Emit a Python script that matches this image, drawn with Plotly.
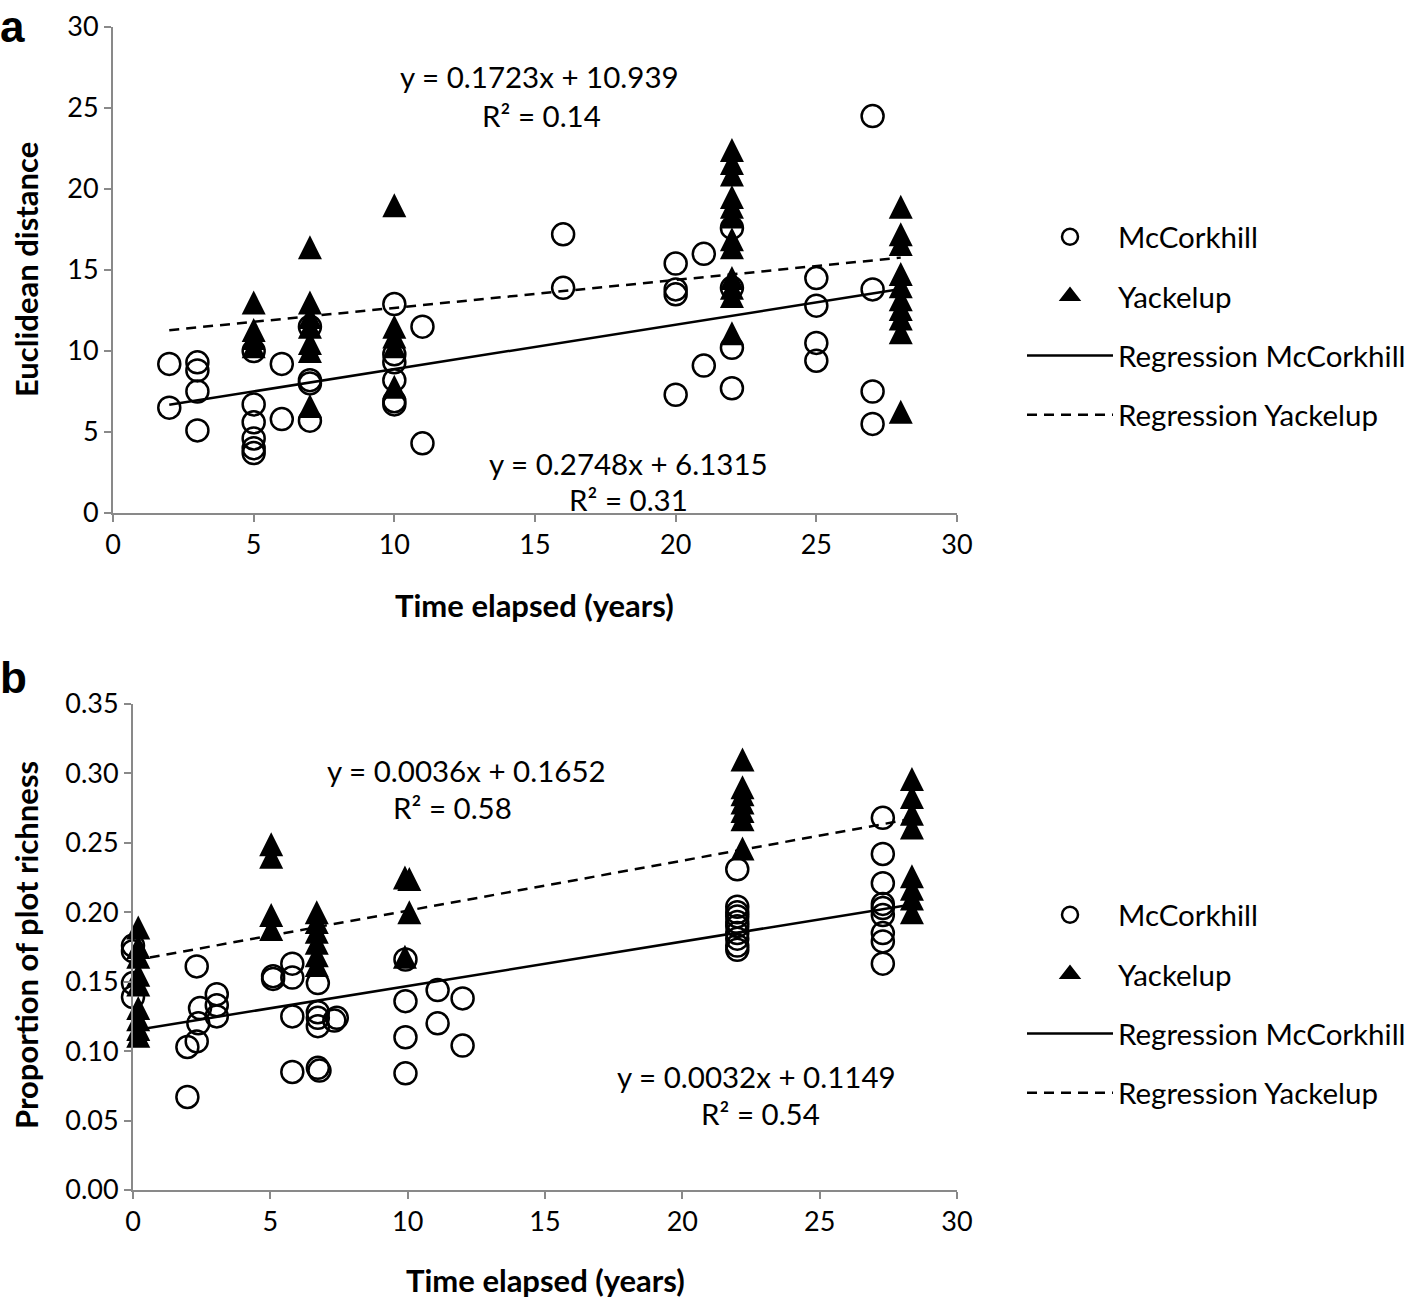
import plotly.graph_objects as go

W, H = 1416, 1300

# ---------------- Panel a data ----------------
a_mc_x = [2, 2, 3, 3, 3, 3, 5, 5, 5, 5, 5, 5, 6, 6, 7, 7, 7, 7,
          10, 10, 10, 10, 10, 10, 11, 11, 16, 16, 20, 20, 20, 20, 21, 21,
          22, 22, 22, 22, 25, 25, 25, 25, 27, 27, 27, 27]
a_mc_y = [9.2, 6.5, 9.3, 8.8, 7.5, 5.1, 10.0, 6.7, 5.6, 4.6, 4.0, 3.7, 9.2, 5.8,
          11.5, 8.2, 8.0, 5.7, 12.9, 9.8, 9.3, 8.2, 6.9, 6.7, 11.5, 4.3, 17.2, 13.9,
          15.4, 13.8, 13.5, 7.3, 16.0, 9.1, 17.6, 13.9, 10.2, 7.7, 14.5, 12.8, 10.5, 9.4,
          24.5, 13.8, 7.5, 5.5]
a_ya_x = [5, 5, 5, 5,
          7, 7, 7, 7, 7, 7, 7,
          10, 10, 10, 10, 10,
          22, 22, 22, 22, 22, 22, 22, 22, 22, 22, 22, 22,
          28, 28, 28, 28, 28, 28, 28, 28, 28, 28]
a_ya_y = [13.0, 11.3, 10.8, 10.3,
          16.4, 13.0, 12.1, 11.5, 10.5, 10.0, 6.6,
          19.0, 11.5, 10.9, 10.3, 7.8,
          22.4, 21.6, 20.9, 19.5, 18.9, 18.3, 16.9, 16.4, 14.5, 13.9, 13.4, 11.1,
          18.9, 17.2, 16.6, 14.75, 14.0, 13.2, 12.6, 12.0, 11.15, 6.25]
# trendline coefficients (slope, intercept) and x extent
a_reg_mc = (0.2748, 6.1315)
a_reg_ya = (0.1723, 10.939)
a_reg_x = [2, 28]

# ---------------- Panel b data ----------------
b_mc_x = [0, 0, 0, 0, 1.98, 1.98, 2.32, 2.32, 2.38, 2.44, 3.05, 3.05, 3.05,
          5.1, 5.1, 5.8, 5.8, 5.8, 5.8, 6.73, 6.73, 6.73, 6.73, 6.73, 6.79, 7.33, 7.42,
          9.92, 9.92, 9.92, 9.92, 11.09, 11.09, 12.0, 12.0,
          22.0, 22.0, 22.0, 22.0, 22.0, 22.0, 22.0, 22.0, 22.0, 22.0,
          27.3, 27.3, 27.3, 27.3, 27.3, 27.3, 27.3, 27.3, 27.3]
b_mc_y = [0.176, 0.172, 0.149, 0.139, 0.103, 0.067, 0.161, 0.107, 0.120, 0.131,
          0.141, 0.133, 0.125,
          0.154, 0.152, 0.163, 0.153, 0.125, 0.085, 0.149, 0.128, 0.124, 0.118, 0.088,
          0.086, 0.122, 0.124,
          0.166, 0.136, 0.110, 0.084, 0.144, 0.120, 0.138, 0.104,
          0.231, 0.204, 0.200, 0.197, 0.193, 0.190, 0.185, 0.181, 0.176, 0.173,
          0.268, 0.242, 0.221, 0.206, 0.203, 0.198, 0.185, 0.179, 0.163]
b_ya_x = [0.19] * 9 + [5.03] * 4 + [6.69] * 6 + [9.9, 9.9, 10.06, 10.06] + \
         [22.19] * 7 + [28.36] * 8
b_ya_y = [0.189, 0.175, 0.168, 0.155, 0.148, 0.131, 0.123, 0.116, 0.111,
          0.249, 0.240, 0.198, 0.188,
          0.200, 0.193, 0.186, 0.178, 0.169, 0.162,
          0.225, 0.168, 0.224, 0.200,
          0.310, 0.290, 0.285, 0.279, 0.273, 0.267, 0.246,
          0.296, 0.283, 0.271, 0.261, 0.226, 0.217, 0.210, 0.200]
b_reg_mc = (0.0032, 0.1149)
b_reg_ya = (0.0036, 0.1652)
b_reg_x = [0, 28.36]

ticks_a = [0, 5, 10, 15, 20, 25, 30]
ticks_b_y = [0, 0.05, 0.10, 0.15, 0.20, 0.25, 0.30, 0.35]

FONT = "Lato, 'Open Sans', sans-serif"
LETTER_FONT = "'Liberation Sans', Arial, sans-serif"
AXC = "#898989"


def px(x):
    return x / W


def py(y):
    return 1 - y / H


def trend(coef, xs):
    return [coef[0] * x + coef[1] for x in xs]


circ = dict(symbol="circle-open", size=22, color="black", line=dict(color="black", width=2.5))
tri = dict(symbol="arrow-down", angle=180, standoff=12, size=24, color="black",
           line=dict(color="black", width=0))
tri_leg = dict(symbol="triangle-up", size=20, color="black", line=dict(color="black", width=2))

fig = go.Figure()

for (xa, ya, mcx, mcy, yax, yay, regmc, regya, regx, leg) in [
        ("x", "y", a_mc_x, a_mc_y, a_ya_x, a_ya_y, a_reg_mc, a_reg_ya, a_reg_x, "legend"),
        ("x2", "y2", b_mc_x, b_mc_y, b_ya_x, b_ya_y, b_reg_mc, b_reg_ya, b_reg_x, "legend2")]:
    fig.add_trace(go.Scatter(x=mcx, y=mcy, mode="markers", marker=circ, name="McCorkhill",
                             xaxis=xa, yaxis=ya, legend=leg, legendgroup=leg + "1", cliponaxis=False))
    fig.add_trace(go.Scatter(x=yax, y=yay, mode="markers", marker=tri, name="Yackelup",
                             xaxis=xa, yaxis=ya, legend=leg, legendgroup=leg + "2",
                             showlegend=False, cliponaxis=False))
    # legend entry for the triangle series (no points of its own)
    fig.add_trace(go.Scatter(x=[None], y=[None], mode="markers", marker=tri_leg, name="Yackelup",
                             xaxis=xa, yaxis=ya, legend=leg, legendgroup=leg + "2"))
    fig.add_trace(go.Scatter(x=regx, y=trend(regmc, regx), mode="lines",
                             line=dict(color="black", width=2.5), name="Regression McCorkhill",
                             xaxis=xa, yaxis=ya, legend=leg, legendgroup=leg + "3"))
    fig.add_trace(go.Scatter(x=regx, y=trend(regya, regx), mode="lines",
                             line=dict(color="black", width=2.5, dash="10px,7px"),
                             name="Regression Yackelup",
                             xaxis=xa, yaxis=ya, legend=leg, legendgroup=leg + "4"))

axis_common = dict(showline=True, linecolor=AXC, linewidth=2, ticks="outside", ticklen=7,
                   tickwidth=2, tickcolor=AXC, showgrid=False, zeroline=False, automargin=False,
                   tickfont=dict(family=FONT, size=27, color="black"), mirror=False)

legend_common = dict(xanchor="left", yanchor="top", tracegroupgap=18,
                     font=dict(family=FONT, size=29.5, color="black"), bgcolor="rgba(0,0,0,0)",
                     itemwidth=86)

fig.update_layout(
    width=W, height=H, margin=dict(l=0, r=0, t=0, b=0, autoexpand=False),
    plot_bgcolor="white", paper_bgcolor="white",
    font=dict(family=FONT, color="black"),
    xaxis=dict(domain=[px(113), px(957)], range=[0, 30], tickvals=ticks_a, anchor="y", **axis_common),
    yaxis=dict(domain=[py(513), py(27)], range=[0, 30], tickvals=ticks_a, anchor="x", **axis_common),
    xaxis2=dict(domain=[px(133), px(957)], range=[0, 30], tickvals=ticks_a, anchor="y2", **axis_common),
    yaxis2=dict(domain=[py(1190), py(704)], range=[0, 0.35], tickvals=ticks_b_y,
                tickformat=".2f", anchor="x2", **axis_common),
    legend=dict(x=px(1022), y=py(211), **legend_common),
    legend2=dict(x=px(1022), y=py(889), **legend_common),
)

ann = []


def txt(x, y, s, size=29.5, bold=False, angle=0, family=FONT, xanchor="center", yanchor="middle"):
    ann.append(dict(x=px(x), y=py(y), xref="paper", yref="paper", text=("<b>%s</b>" % s) if bold else s,
                    showarrow=False, textangle=angle, xanchor=xanchor, yanchor=yanchor,
                    font=dict(family=family, size=size, color="black")))


txt(539, 77, "y = 0.1723x + 10.939")
txt(541, 116, "R² = 0.14")
txt(628, 463, "y = 0.2748x + 6.1315")
txt(628, 500, "R² = 0.31")
txt(466, 770, "y = 0.0036x + 0.1652")
txt(452, 808, "R² = 0.58")
txt(756, 1076, "y = 0.0032x + 0.1149")
txt(760, 1113, "R² = 0.54")
txt(534, 605, "Time elapsed (years)", size=31, bold=True)
txt(545, 1280, "Time elapsed (years)", size=31, bold=True)
txt(26, 270, "Euclidean distance", size=31, bold=True, angle=-90)
txt(26, 945, "Proportion of plot richness", size=31, bold=True, angle=-90)
txt(-2, 0, "a", size=44, bold=True, family=LETTER_FONT, xanchor="left", yanchor="top")
txt(-2, 651, "b", size=44, bold=True, family=LETTER_FONT, xanchor="left", yanchor="top")
fig.update_layout(annotations=ann)

# remove the browser's default 8px page margin so the figure sits at (0, 0)
fig.write_html("out.html", config={"displayModeBar": False},
               post_script="document.body.style.margin='0px';")
